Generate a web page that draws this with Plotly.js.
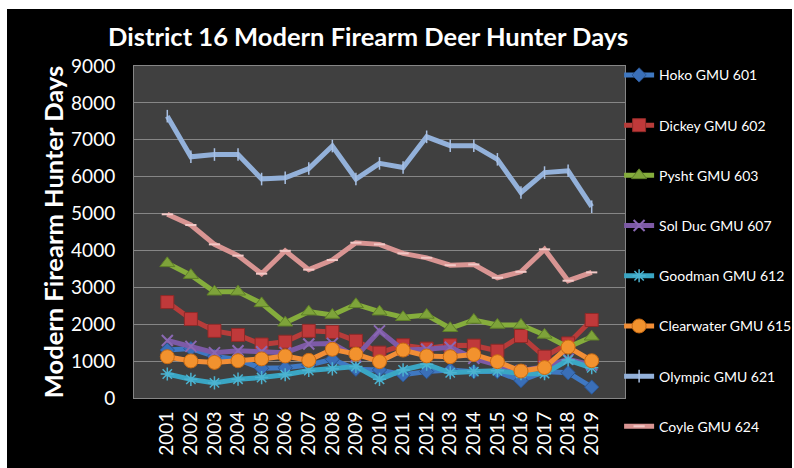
<!DOCTYPE html>
<html><head><meta charset="utf-8">
<script src="https://cdn.plot.ly/plotly-3.0.1.min.js"></script>
<style>html,body{margin:0;padding:0;background:#fff;}#chart{position:absolute;left:7px;top:9px;width:785px;height:459px;}</style>
</head><body><div id="chart"></div>
<script>
const years = ['2001','2002','2003','2004','2005','2006','2007','2008','2009','2010','2011','2012','2013','2014','2015','2016','2017','2018','2019'];
const hoko =       [1300,1340,1130,1040, 805, 820, 895,1050, 780, 760, 630, 715, 760, 715, 715, 470, 715, 685, 295];
const dickey =     [2600,2140,1820,1710,1450,1525,1820,1790,1550,1230,1430,1340,1430,1420,1280,1680,1120,1480,2115];
const pysht =      [3650,3330,2880,2880,2565,2040,2340,2250,2540,2340,2190,2250,1890,2115,1980,1980,1710,1375,1660];
const solduc =     [1560,1400,1230,1280,1255,1230,1465,1480,1120,1820,1300,1320,1375,1075, 895, 740, 850,1050, 895];
const goodman =    [ 650, 505, 410, 510, 555, 630, 745, 790, 855, 505, 760, 915, 685, 715, 740, 660, 660,1030, 820];
const clearwater = [1120,1005, 965,1010,1060,1140,1020,1320,1190, 985,1300,1140,1120,1180, 985, 730, 825,1380,1010];
const olympic =    [7640,6540,6600,6600,5935,5970,6220,6830,5935,6360,6250,7080,6840,6840,6470,5570,6110,6160,5185];
const coyle =      [4980,4690,4165,3860,3370,3990,3480,3740,4210,4165,3920,3800,3600,3620,3260,3420,4030,3180,3405];
const names = ['Hoko GMU 601','Dickey GMU 602','Pysht GMU 603','Sol Duc GMU 607','Goodman GMU 612','Clearwater GMU 615','Olympic GMU 621','Coyle GMU 624'];
const tickVals = [0,1000,2000,3000,4000,5000,6000,7000,8000,9000];

const series = [hoko, dickey, pysht, solduc, goodman, clearwater, olympic, coyle];
const styles = [
  {c:'#3f78c2', m:{symbol:'diamond', size:11, color:'#3a6fb8', line:{color:'#2a5592', width:1}}},
  {c:'#b83c3a', m:{symbol:'square', size:13, color:'#c0393a', line:{color:'#8e2a28', width:1}}},
  {c:'#85ad3c', m:{symbol:'triangle-up', size:13, color:'#7ea33a', line:{color:'#5f7f28', width:1}}},
  {c:'#7d5aa6', m:{symbol:'x-thin-open', size:11, color:'#8a68b3', line:{color:'#8a68b3', width:2}}},
  {c:'#3aa6c4', m:{symbol:'asterisk-open', size:11, color:'#4cb3d0', line:{color:'#4cb3d0', width:1.5}}},
  {c:'#f28e36', m:{symbol:'circle', size:14, color:'#f2922e', line:{color:'#c96a12', width:1}}},
  {c:'#93b1da', m:{symbol:'line-ns-open', size:9, color:'#a8c0e4', line:{color:'#a8c0e4', width:1.5}}},
  {c:'#d99593', m:{symbol:'line-ew-open', size:8, color:'#f2c8c6', line:{color:'#f6d4d2', width:2}}}
];

const traces = series.map((vals, i) => ({
  x: years, y: vals, name: names[i], type: 'scatter', mode: 'lines+markers',
  legendgroup: 'g' + i,
  line: {color: styles[i].c, width: 5},
  marker: styles[i].m
}));

const font = 'Lato, "Open Sans", sans-serif';
const layout = {
  width: 785, height: 459,
  paper_bgcolor: '#000000', plot_bgcolor: '#404040',
  margin: {l: 127, r: 167, t: 57, b: 70, autoexpand: false},
  title: {text: '<b>District 16 Modern Firearm Deer Hunter Days</b>', font: {family: font, size: 25.5, color: '#ffffff'},
          xref: 'container', x: 0.46, xanchor: 'center', yref: 'container', y: 0.939, yanchor: 'middle'},
  xaxis: {type: 'category', tickangle: -90, tickfont: {family: font, size: 19, color: '#ffffff'},
          showgrid: false, showline: true, linecolor: '#868686', linewidth: 1, mirror: true,
          ticks: '', ticklabelstandoff: 5, fixedrange: true, automargin: false},
  yaxis: {range: [0, 9000], tickvals: tickVals, ticktext: tickVals.map(String),
          tickfont: {family: font, size: 19, color: '#ffffff'},
          showgrid: true, gridcolor: '#868686', gridwidth: 1, zeroline: false,
          showline: true, linecolor: '#868686', linewidth: 1, mirror: true,
          ticks: '', ticklabelstandoff: 14, automargin: false,
          title: {text: '<b>Modern Firearm Hunter Days</b>', font: {family: font, size: 25.5, color: '#ffffff'}, standoff: 0}},
  showlegend: true,
  legend: {x: 0.988, xanchor: 'left', y: 1.02, yanchor: 'top', maxheight: 440,
           bgcolor: 'rgba(0,0,0,0)',
           font: {family: font, size: 14, color: '#ffffff'}, tracegroupgap: 29, itemclick: false},
  hovermode: false
};

Plotly.newPlot('chart', traces, layout, {displayModeBar: false, staticPlot: true});
</script></body></html>
